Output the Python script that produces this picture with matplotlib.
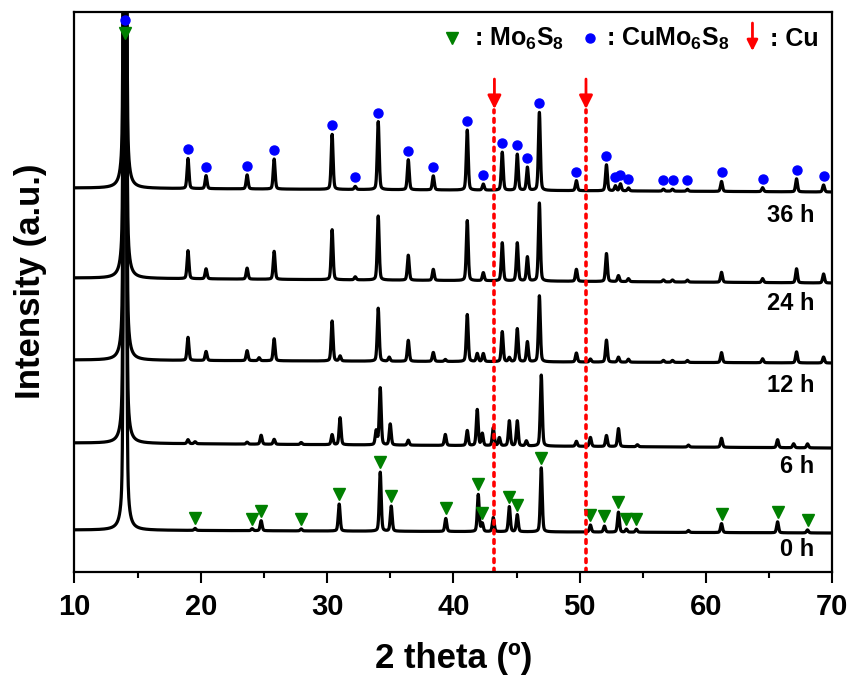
import numpy as np
import matplotlib.pyplot as plt

plt.rcParams['font.family'] = ['Liberation Sans', 'DejaVu Sans']
plt.rcParams['font.weight'] = 'bold'
plt.rcParams['mathtext.fontset'] = 'custom'
plt.rcParams['mathtext.rm'] = 'Liberation Sans:bold'
plt.rcParams['mathtext.bf'] = 'Liberation Sans:bold'
plt.rcParams['mathtext.default'] = 'rm'

# peak lists (2theta, height) for each reaction time
pos_0h = [14.0, 19.55, 24.07, 24.78, 27.95, 30.96, 34.21, 35.08, 39.4, 41.97, 42.29,
          43.16, 44.43, 45.06, 46.96, 50.85, 51.96, 53.07, 53.7, 54.49, 58.61, 61.23,
          65.67, 68.04]
int_0h = [1300, 2, 2, 10, 2, 27, 59, 25, 13, 37, 8, 14, 25, 17, 64, 7, 6, 20, 3, 3, 2,
          9, 11, 3]

pos_6h = [14.0, 18.99, 19.55, 23.67, 24.78, 25.81, 27.95, 30.4, 31.03, 33.89, 34.21,
          35.0, 36.43, 39.36, 41.1, 41.89, 42.29, 43.16, 43.64, 44.43, 45.06, 45.78,
          46.96, 49.74, 50.85, 52.12, 53.07, 54.57, 58.61, 61.23, 65.67, 66.94, 68.04]
int_6h = [1300, 4, 2, 2, 9, 5, 2, 10, 27, 14, 57, 21, 5, 11, 15, 36, 12, 18, 8, 25, 25,
          5, 71, 5, 9, 11, 18, 2, 2, 9, 8, 4, 4]

pos_12h = [14.0, 18.99, 20.42, 23.67, 24.62, 25.81, 30.4, 31.03, 34.05, 34.92, 36.43,
           38.41, 39.36, 41.1, 41.89, 42.37, 43.87, 44.43, 45.06, 45.86, 46.81, 49.74,
           50.85, 52.12, 53.07, 53.86, 56.63, 57.35, 58.53, 61.23, 64.48, 67.17, 69.31]
int_12h = [1300, 23, 9, 10, 3, 22, 40, 5, 53, 4, 21, 9, 2, 47, 8, 8, 30, 4, 33, 20, 66,
           9, 3, 22, 5, 3, 2, 2, 2, 10, 4, 11, 6]

pos_24h = [14.0, 18.99, 20.42, 23.67, 25.81, 30.4, 32.23, 34.05, 36.43, 38.41, 41.1,
           42.37, 43.87, 45.06, 45.86, 46.81, 49.74, 52.12, 53.07, 53.86, 56.63, 57.35,
           58.53, 61.23, 64.48, 67.17, 69.31]
int_24h = [1300, 28, 10, 11, 28, 50, 3, 64, 25, 11, 60, 8, 38, 38, 24, 78, 12, 28, 6, 3,
           2, 2, 2, 10, 4, 14, 9]

pos_36h = [14.0, 18.99, 20.42, 23.67, 25.81, 30.4, 32.23, 34.05, 36.43, 38.41, 41.1,
           42.37, 43.87, 45.06, 45.86, 46.81, 49.74, 52.12, 52.83, 53.23, 53.86, 56.63,
           57.35, 58.53, 61.23, 64.48, 67.17, 69.31]
int_36h = [1300, 30, 13, 14, 30, 55, 3, 68, 30, 14, 60, 6, 38, 36, 23, 78, 10, 26, 5, 7,
           3, 2, 2, 2, 10, 4, 13, 7]

# background level at 10 and 70 degrees (stacking offsets)
base_0h = [42, 39]
base_6h = [129, 124]
base_12h = [212, 209]
base_24h = [294, 289]
base_36h = [384, 380]

labels = ['0 h', '6 h', '12 h', '24 h', '36 h']
label_y = [23, 106, 187, 269, 357]

# reflections marked with symbols
mo6s8_peaks = [14.0, 19.55, 24.07, 24.78, 27.95, 30.96, 34.21, 35.08, 39.4, 41.97,
               42.29, 44.43, 45.06, 46.96, 50.85, 51.96, 53.07, 53.7, 54.49, 61.23,
               65.67, 68.04]
cumo6s8_peaks = [14.0, 18.99, 20.42, 23.67, 25.81, 30.4, 32.23, 34.05, 36.43, 38.41,
                 41.1, 42.37, 43.87, 45.06, 45.86, 46.81, 49.74, 52.12, 52.83, 53.23,
                 53.86, 56.63, 57.35, 58.53, 61.23, 64.48, 67.17, 69.31]
cu_peaks = [43.25, 50.5]

two_theta = np.linspace(10, 70, 6001)


def pattern(pos, inten, base, fwhm=0.18, eta=0.3):
    y = np.interp(two_theta, [10, 70], base)
    for p, h in zip(pos, inten):
        dx = (two_theta - p) / (fwhm / 2)
        y = y + h * (eta / (1 + dx ** 2) + (1 - eta) * np.exp(-np.log(2) * dx ** 2))
    return y


def main():
    fig = plt.figure(figsize=(8.51, 6.80), dpi=100)
    ax = fig.add_axes([0.0875, 0.1588, 0.8905, 0.8235])

    curves = [pattern(pos_0h, int_0h, base_0h),
              pattern(pos_6h, int_6h, base_6h),
              pattern(pos_12h, int_12h, base_12h),
              pattern(pos_24h, int_24h, base_24h),
              pattern(pos_36h, int_36h, base_36h)]

    for y, lab, ly in zip(curves, labels, label_y):
        ax.plot(two_theta, y, color='black', lw=2.3, solid_joinstyle='round')
        ax.text(68.6, ly, lab, ha='right', va='center', fontsize=17, fontweight='bold')

    # phase markers above the peaks (kept inside the frame for the 14 deg peak)
    tri_y = np.minimum(np.interp(mo6s8_peaks, two_theta, curves[0]) + 10, 539)
    ax.plot(mo6s8_peaks, tri_y, 'v', color='green', ms=9, ls='none')
    cir_y = np.minimum(np.interp(cumo6s8_peaks, two_theta, curves[4]) + 9, 552)
    ax.plot(cumo6s8_peaks, cir_y, 'o', color='blue', ms=6.5, ls='none')

    for x in cu_peaks:
        ax.plot([x, x], [0, 462], ls=':', color='red', lw=2.6, dash_capstyle='round')
        ax.annotate('', xy=(x, 463), xytext=(x, 493),
                    arrowprops=dict(arrowstyle='-|>', color='red', lw=2,
                                    mutation_scale=20, shrinkA=0, shrinkB=0))

    # symbol key
    ax.plot(39.9, 534, 'v', color='green', ms=9)
    ax.text(41.6, 526, r': Mo$_6$S$_8$', fontsize=18, fontweight='bold', va='baseline')
    ax.plot(50.85, 534, 'o', color='blue', ms=6.5)
    ax.text(52.1, 526, r': CuMo$_6$S$_8$', fontsize=18, fontweight='bold', va='baseline')
    ax.annotate('', xy=(63.68, 521), xytext=(63.68, 549),
                arrowprops=dict(arrowstyle='-|>', color='red', lw=2,
                                mutation_scale=16, shrinkA=0, shrinkB=0))
    ax.text(65.1, 526, ': Cu', fontsize=18, fontweight='bold', va='baseline')

    ax.set_xlim(10, 70)
    ax.set_ylim(0, 560)
    ax.set_xticks(range(10, 71, 10))
    ax.set_xticks(range(15, 70, 10), minor=True)
    ax.set_yticks([])
    ax.tick_params(axis='x', which='major', direction='out', length=8, width=1.5,
                   labelsize=21, pad=7)
    ax.tick_params(axis='x', which='minor', direction='out', length=4, width=1.5)
    for lab in ax.get_xticklabels():
        lab.set_fontweight('bold')
    for s in ax.spines.values():
        s.set_linewidth(1.6)

    ax.set_xlabel('2 theta (º)', fontsize=25, fontweight='bold', labelpad=15)
    ax.set_ylabel('Intensity (a.u.)', fontsize=25, fontweight='bold')
    ax.yaxis.set_label_coords(-0.036, 0.52)

    fig.savefig('out.png', dpi=100)


if __name__ == "__main__":
    main()
